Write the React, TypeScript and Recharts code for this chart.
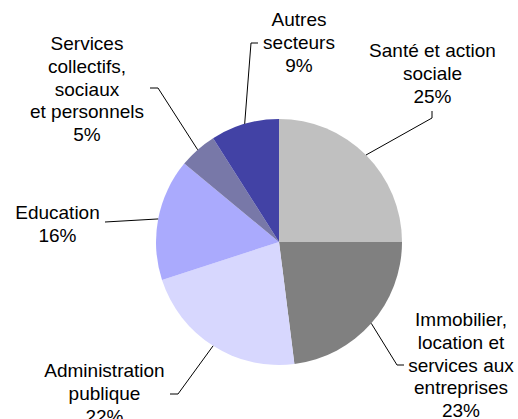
import { PieChart, Pie, Cell } from 'recharts'

const secteurs = [
  'Santé et action\nsociale',
  'Immobilier,\nlocation et\nservices aux\nentreprises',
  'Administration\npublique',
  'Education',
  'Services\ncollectifs,\nsociaux\net personnels',
  'Autres\nsecteurs',
]
const parts = [25, 23, 22, 16, 5, 9]
const couleurs = ['#c0c0c0', '#808080', '#d7d7fe', '#aaaafd', '#7878a8', '#4242a5']

// placement des étiquettes, relatif au centre du camembert
const placements: { coude: [number, number] | null; fin: [number, number]; texte: [number, number] }[] = [
  { coude: [153, -124], fin: [153, -131], texte: [153.5, -185] },
  { coude: [118, 123], fin: [125, 123], texte: [182, 84] },
  { coude: [-101, 152], fin: [-109, 152], texte: [-174.5, 135] },
  { coude: null, fin: [-174, -20], texte: [-221.5, -23] },
  { coude: [-121, -154], fin: [-129, -154], texte: [-192, -192] },
  { coude: [-28, -199], fin: [-21, -199], texte: [20, -216] },
]

const data = secteurs.map((nom, i) => ({ nom, valeur: parts[i] }))
const RAD = Math.PI / 180
const INTERLIGNE = 22.8

function Etiquette(props: any) {
  const { cx, cy, midAngle, outerRadius, index } = props
  const p = placements[index]
  const x0 = cx + outerRadius * Math.cos(-midAngle * RAD)
  const y0 = cy + outerRadius * Math.sin(-midAngle * RAD)
  const pts: [number, number][] = [[x0, y0]]
  if (p.coude) pts.push([cx + p.coude[0], cy + p.coude[1]])
  pts.push([cx + p.fin[0], cy + p.fin[1]])
  const lignes = [...secteurs[index].split('\n'), `${parts[index]}%`]
  const tx = cx + p.texte[0]
  const ty = cy + p.texte[1]
  return (
    <g>
      <polyline
        points={pts.map(q => q.join(',')).join(' ')}
        fill="none"
        stroke="#000"
        strokeWidth={1}
      />
      <text
        x={tx}
        y={ty}
        textAnchor="middle"
        fill="#000"
        style={{ fontFamily: 'Arial, "Liberation Sans", sans-serif', fontSize: 19 }}
      >
        {lignes.map((l, i) => (
          <tspan key={i} x={tx} y={ty + i * INTERLIGNE}>
            {l}
          </tspan>
        ))}
      </text>
    </g>
  )
}

export default function App() {
  return (
    <div style={{ position: 'absolute', left: 0, top: 0, background: '#fff' }}>
      <PieChart width={518} height={419} margin={{ top: 0, right: 0, bottom: 0, left: 0 }}>
        <Pie
          data={data}
          dataKey="valeur"
          nameKey="nom"
          cx={279}
          cy={242}
          outerRadius={123}
          startAngle={90}
          endAngle={-270}
          stroke="none"
          label={Etiquette}
          labelLine={false}
          isAnimationActive={false}
        >
          {data.map((_, i) => (
            <Cell key={i} fill={couleurs[i]} />
          ))}
        </Pie>
      </PieChart>
    </div>
  )
}
